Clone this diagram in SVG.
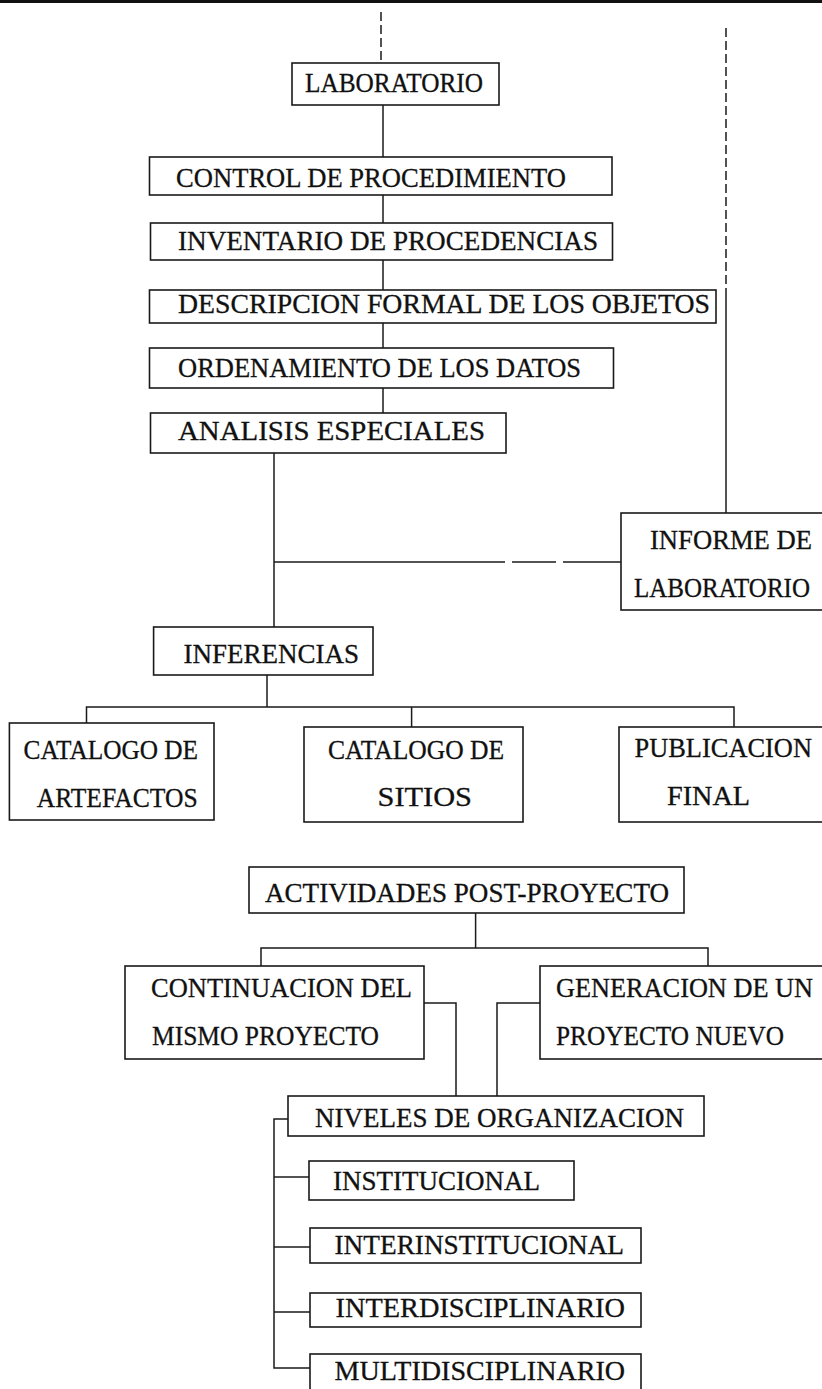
<svg xmlns="http://www.w3.org/2000/svg" width="822" height="1389" viewBox="0 0 822 1389">
<style>
.b{fill:#fff;stroke:#1a1a1a;stroke-width:1.6}
.t{font-family:"Liberation Serif","Times New Roman",serif;font-size:27px;fill:#111;stroke:#111;stroke-width:0.3}
.c{fill:none;stroke:#1a1a1a;stroke-width:1.5}
.d{fill:none;stroke:#1a1a1a;stroke-width:1.5;stroke-dasharray:9 4}
</style>
<rect x="0" y="0" width="822" height="1389" fill="#fff"/>
<rect x="0" y="0" width="822" height="3" fill="#111"/>
<g id="connectors">
<line class="d" x1="381" y1="12" x2="381" y2="63"/>
<line class="d" x1="726" y1="28" x2="726" y2="290"/>
<line class="c" x1="726" y1="290" x2="726" y2="513"/>
<line class="c" x1="383" y1="105" x2="383" y2="157"/>
<line class="c" x1="383" y1="195" x2="383" y2="223"/>
<line class="c" x1="383" y1="260" x2="383" y2="290"/>
<line class="c" x1="383" y1="323" x2="383" y2="348"/>
<line class="c" x1="383" y1="388" x2="383" y2="413"/>
<line class="c" x1="274" y1="453" x2="274" y2="627"/>
<line class="c" x1="274" y1="562" x2="505" y2="562"/>
<line class="c" x1="512" y1="562" x2="556" y2="562"/>
<line class="c" x1="563" y1="562" x2="621" y2="562"/>
<line class="c" x1="267" y1="675" x2="267" y2="707"/>
<polyline class="c" points="86.5,723 86.5,707 734,707 734,727"/>
<line class="c" x1="411.6" y1="707" x2="411.6" y2="727"/>
<line class="c" x1="475.6" y1="913" x2="475.6" y2="948"/>
<polyline class="c" points="261,966 261,948 708,948 708,966"/>
<polyline class="c" points="424,1003 456,1003 456,1096"/>
<polyline class="c" points="540,1003 497,1003 497,1096"/>
<polyline class="c" points="288,1119 274,1119 274,1368 310,1368"/>
<line class="c" x1="274" y1="1177" x2="309" y2="1177"/>
<line class="c" x1="274" y1="1247" x2="310" y2="1247"/>
<line class="c" x1="274" y1="1312" x2="310" y2="1312"/>
</g>
<g id="laboratorio"><rect class="b" x="292" y="63" width="207" height="42"/><text class="t" x="305" y="92" textLength="178" lengthAdjust="spacingAndGlyphs">LABORATORIO</text></g>
<g id="control"><rect class="b" x="149.5" y="157" width="462.5" height="38"/><text class="t" x="176" y="187" textLength="390" lengthAdjust="spacingAndGlyphs">CONTROL DE PROCEDIMIENTO</text></g>
<g id="inventario"><rect class="b" x="150.5" y="223" width="462" height="37"/><text class="t" x="178" y="250" textLength="420" lengthAdjust="spacingAndGlyphs">INVENTARIO DE PROCEDENCIAS</text></g>
<g id="descripcion"><rect class="b" x="149.5" y="290" width="566.5" height="33"/><text class="t" x="178" y="313" textLength="532" lengthAdjust="spacingAndGlyphs">DESCRIPCION FORMAL DE LOS OBJETOS</text></g>
<g id="ordenamiento"><rect class="b" x="149.5" y="348" width="464" height="40"/><text class="t" x="178" y="377" textLength="403" lengthAdjust="spacingAndGlyphs">ORDENAMIENTO DE LOS DATOS</text></g>
<g id="analisis"><rect class="b" x="150.5" y="413" width="355.5" height="40"/><text class="t" x="178" y="440" textLength="307" lengthAdjust="spacingAndGlyphs">ANALISIS ESPECIALES</text></g>
<g id="informe"><rect class="b" x="621" y="513" width="215" height="97"/><text class="t" x="650" y="549" textLength="162" lengthAdjust="spacingAndGlyphs">INFORME DE</text><text class="t" x="634" y="597" textLength="176" lengthAdjust="spacingAndGlyphs">LABORATORIO</text></g>
<g id="inferencias"><rect class="b" x="153.6" y="627" width="219.4" height="48"/><text class="t" x="183.5" y="663" textLength="175.5" lengthAdjust="spacingAndGlyphs">INFERENCIAS</text></g>
<g id="cat-artefactos"><rect class="b" x="9.4" y="723" width="204.6" height="97"/><text class="t" x="23.6" y="759" textLength="174.5" lengthAdjust="spacingAndGlyphs">CATALOGO DE</text><text class="t" x="36.7" y="807" textLength="161" lengthAdjust="spacingAndGlyphs">ARTEFACTOS</text></g>
<g id="cat-sitios"><rect class="b" x="304" y="727" width="219" height="95"/><text class="t" x="328" y="759" textLength="176" lengthAdjust="spacingAndGlyphs">CATALOGO DE</text><text class="t" x="377.5" y="806" textLength="94.5" lengthAdjust="spacingAndGlyphs">SITIOS</text></g>
<g id="publicacion"><rect class="b" x="619" y="727" width="217" height="95"/><text class="t" x="634.5" y="757" textLength="177.5" lengthAdjust="spacingAndGlyphs">PUBLICACION</text><text class="t" x="667" y="805" textLength="83" lengthAdjust="spacingAndGlyphs">FINAL</text></g>
<g id="actividades"><rect class="b" x="249" y="867" width="435" height="46"/><text class="t" x="265" y="902" textLength="404" lengthAdjust="spacingAndGlyphs">ACTIVIDADES POST-PROYECTO</text></g>
<g id="continuacion"><rect class="b" x="125" y="966" width="299" height="93"/><text class="t" x="151" y="997" textLength="261" lengthAdjust="spacingAndGlyphs">CONTINUACION DEL</text><text class="t" x="152" y="1045" textLength="227" lengthAdjust="spacingAndGlyphs">MISMO PROYECTO</text></g>
<g id="generacion"><rect class="b" x="540" y="966" width="296" height="93"/><text class="t" x="556" y="997" textLength="257" lengthAdjust="spacingAndGlyphs">GENERACION DE UN</text><text class="t" x="556" y="1045" textLength="228" lengthAdjust="spacingAndGlyphs">PROYECTO NUEVO</text></g>
<g id="niveles"><rect class="b" x="288" y="1096" width="416" height="40"/><text class="t" x="315" y="1127" textLength="369" lengthAdjust="spacingAndGlyphs">NIVELES DE ORGANIZACION</text></g>
<g id="institucional"><rect class="b" x="309" y="1161" width="265" height="39"/><text class="t" x="333" y="1190" textLength="207" lengthAdjust="spacingAndGlyphs">INSTITUCIONAL</text></g>
<g id="interinstitucional"><rect class="b" x="310" y="1228" width="331" height="35"/><text class="t" x="334.5" y="1254" textLength="289.5" lengthAdjust="spacingAndGlyphs">INTERINSTITUCIONAL</text></g>
<g id="interdisciplinario"><rect class="b" x="310" y="1293" width="331" height="34"/><text class="t" x="335.6" y="1317" textLength="289.4" lengthAdjust="spacingAndGlyphs">INTERDISCIPLINARIO</text></g>
<g id="multidisciplinario"><rect class="b" x="310" y="1354" width="331" height="40"/><text class="t" x="334.5" y="1380" textLength="290.5" lengthAdjust="spacingAndGlyphs">MULTIDISCIPLINARIO</text></g>
</svg>
